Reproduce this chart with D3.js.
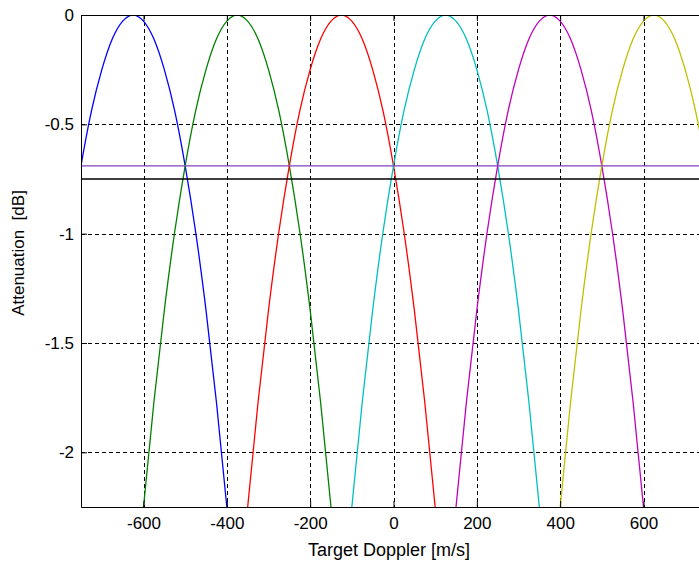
<!DOCTYPE html>
<html>
<head>
<meta charset="utf-8">
<script src="https://cdn.jsdelivr.net/npm/d3@7"></script>
<style>
  body { margin: 0; background: #fff; }
  svg { display: block; font-family: "Liberation Sans", Arial, sans-serif; }
</style>
</head>
<body>
<div class="chart"></div>
<script>
// filter centres [m/s] and one shared loss profile
var centers = [-625, -375, -125, 125, 375, 625]
var colors = ['#0000ff', '#008000', '#ff0000', '#00bfbf', '#bf00bf', '#bfbf00']
var offsets = [-250, -225, -200, -175, -150, -125, -100, -75, -50, -25, 0, 25, 50, 75, 100, 125, 150, 175, 200, 225, 250]
var profile = [-2.78, -2.25, -1.77, -1.35, -0.99, -0.69, -0.44, -0.25, -0.11, -0.028, 0, -0.028, -0.11, -0.25, -0.44, -0.69, -0.99, -1.35, -1.77, -2.25, -2.78]
var levels = [-0.69, -0.75]
var levelColors = ['#8040c0', '#000000']
var xTicks = [-600, -400, -200, 0, 200, 400, 600]
var yTicks = [0, -0.5, -1, -1.5, -2]

;(function () {
  var width = 699
  var height = 563
  var left = 81
  var plotTop = 15
  var plotW = 625
  var plotH = 492

  var x = d3.scaleLinear().domain([-750, 750]).range([left, left + plotW])
  var y = d3.scaleLinear().domain([-2.25, 0]).range([plotTop + plotH, plotTop])

  var svg = d3.select('.chart')
    .append('svg')
    .attr('width', width)
    .attr('height', height)

  svg.append('defs')
    .append('clipPath')
    .attr('id', 'plot-clip')
    .append('rect')
    .attr('x', left)
    .attr('y', plotTop)
    .attr('width', plotW)
    .attr('height', plotH)

  // dashed grid
  svg.append('g')
    .selectAll('line')
    .data(xTicks)
    .enter()
    .append('line')
    .attr('x1', function (d) { return Math.round(x(d)) + 0.5 })
    .attr('x2', function (d) { return Math.round(x(d)) + 0.5 })
    .attr('y1', plotTop)
    .attr('y2', plotTop + plotH)
    .attr('stroke', '#000')
    .attr('stroke-dasharray', '4,3')

  svg.append('g')
    .selectAll('line')
    .data(yTicks.slice(1))
    .enter()
    .append('line')
    .attr('x1', left)
    .attr('x2', left + plotW)
    .attr('y1', function (d) { return Math.round(y(d)) + 0.5 })
    .attr('y2', function (d) { return Math.round(y(d)) + 0.5 })
    .attr('stroke', '#000')
    .attr('stroke-dasharray', '4,3')

  var line = d3.line()
    .x(function (d) { return x(d[0]) })
    .y(function (d) { return y(d[1]) })
    .curve(d3.curveNatural)

  var plot = svg.append('g').attr('clip-path', 'url(#plot-clip)')

  plot.selectAll('path.filter')
    .data(centers)
    .enter()
    .append('path')
    .attr('class', 'filter')
    .attr('d', function (c) {
      return line(offsets.map(function (o, j) { return [c + o, profile[j]] }))
    })
    .attr('fill', 'none')
    .attr('stroke', function (d, i) { return colors[i] })
    .attr('stroke-width', 1.3)

  plot.selectAll('line.level')
    .data(levels)
    .enter()
    .append('line')
    .attr('class', 'level')
    .attr('x1', left)
    .attr('x2', left + plotW)
    .attr('y1', function (d) { return y(d) })
    .attr('y2', function (d) { return y(d) })
    .attr('stroke', function (d, i) { return levelColors[i] })
    .attr('stroke-width', 1.3)

  // axes, ticks pointing inward like matlab
  var fmt = function (d) { return String(d) }

  svg.append('g')
    .attr('transform', 'translate(0,' + (plotTop + plotH) + ')')
    .call(d3.axisBottom(x).tickValues(xTicks).tickFormat(fmt).tickSizeInner(-6).tickSizeOuter(0).tickPadding(10))
    .call(function (g) {
      g.selectAll('text').attr('font-size', '17px').attr('fill', '#000').attr('font-family', null)
      g.selectAll('line, path').attr('stroke', '#000')
    })

  svg.append('g')
    .attr('transform', 'translate(0,' + plotTop + ')')
    .call(d3.axisTop(x).tickValues(xTicks).tickFormat('').tickSizeInner(-6).tickSizeOuter(0))
    .call(function (g) { g.selectAll('line, path').attr('stroke', '#000') })

  svg.append('g')
    .attr('transform', 'translate(' + left + ',0)')
    .call(d3.axisLeft(y).tickValues(yTicks).tickFormat(fmt).tickSizeInner(-6).tickSizeOuter(0).tickPadding(7))
    .call(function (g) {
      g.selectAll('text').attr('font-size', '17px').attr('fill', '#000').attr('font-family', null)
      g.selectAll('line, path').attr('stroke', '#000')
    })

  svg.append('text')
    .attr('x', 389)
    .attr('y', 556)
    .attr('text-anchor', 'middle')
    .attr('font-size', '18px')
    .text('Target Doppler [m/s]')

  svg.append('text')
    .attr('transform', 'translate(24,253) rotate(-90)')
    .attr('text-anchor', 'middle')
    .attr('font-size', '17px')
    .style('white-space', 'pre')
    .text('Attenuation  [dB]')
})()
</script>
</body>
</html>
